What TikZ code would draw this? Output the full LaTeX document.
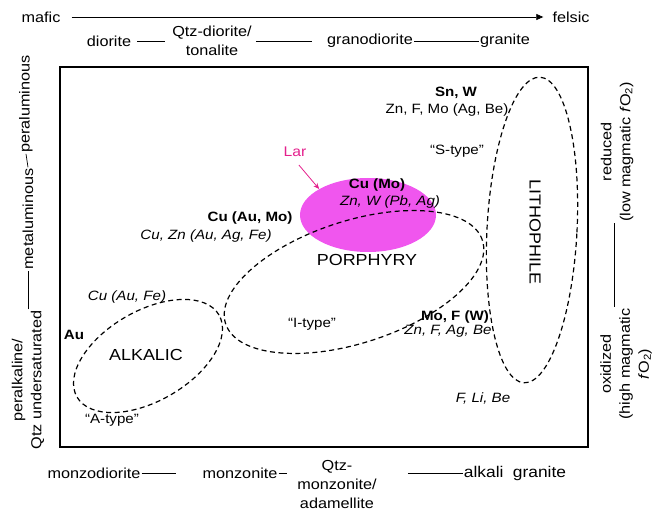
\documentclass[tikz,border=0pt]{standalone}
\usepackage{fontspec}
\setmainfont{Liberation Sans}[FakeStretch=1.12]
\usetikzlibrary{arrows.meta,shapes.geometric}
\definecolor{larfill}{RGB}{240,86,238}
\definecolor{larpink}{RGB}{228,32,140}
\newcommand{\fOtwo}{\textit{f}O\textsubscript{2}}
\begin{document}
\begin{tikzpicture}[x=1pt,y=-1pt,
  lab/.style={font=\fontsize{14.5}{19}\selectfont, inner sep=1pt, align=center},
  el/.style={font=\fontsize{13.5}{15}\selectfont\itshape, inner sep=1pt},
  elr/.style={font=\fontsize{13.5}{15}\selectfont, inner sep=1pt},
  elb/.style={font=\fontsize{13.5}{15}\selectfont\bfseries, inner sep=1pt},
  big/.style={font=\fontsize{16}{18}\selectfont, inner sep=1pt},
  zone/.style={ellipse, draw, line width=1.2pt, dash pattern=on 5pt off 3.5pt, inner sep=0pt},
  tie/.style={line width=0.7pt}]
\useasboundingbox (0,0) rectangle (658,513);

% frame of the diagram
\node[draw, line width=1.1pt, minimum width=528pt, minimum height=380pt, inner sep=0pt] (frame) at (324,257) {};

% top scale: mafic -> felsic
\node[lab] (mafic) at (41,17) {mafic};
\node[lab] (felsic) at (571,17) {felsic};
\draw[tie, -{Triangle[length=7pt,width=6pt]}] ([xshift=10pt]mafic.east) -- ([xshift=-8pt]felsic.west);

\node[lab] (dio) at (109,41) {diorite};
\node[lab] (qdio) at (212,41) {Qtz-diorite/\\tonalite};
\node[lab] (grd) at (370,41) {granodiorite};
\node[lab] (gra) at (505,41) {granite};
\draw[tie] ([xshift=5pt]dio.east) -- ([xshift=-6pt]qdio.west);
\draw[tie] ([xshift=3pt]qdio.east) -- ([xshift=-14pt]grd.west);
\draw[tie] (grd.east) -- (gra.west);

% bottom scale
\node[lab] (mzd) at (94,473) {monzodiorite};
\node[lab] (mzn) at (240,473) {monzonite};
\node[lab] (qmz) at (337,485) {Qtz-\\monzonite/\\adamellite};
\node[lab, font=\fontsize{15.5}{19}\selectfont] (agr) at (515,473) {alkali\hspace{0.3em} granite};
\draw[tie] (mzd.east) -- ([xshift=-25pt]mzn.west);
\draw[tie] (mzn.east) -- ([xshift=8pt]mzn.east);
\draw[tie] ([xshift=30pt]qmz.east |- agr.west) -- (agr.west);

% left scale (aluminium saturation)
\node[lab, rotate=90] (peralu) at (26,104) {peraluminous};
\node[lab, rotate=90] (metalu) at (28,219) {metaluminous};
\node[lab, rotate=90] (peralk) at (28,380) {peralkaline/\\Qtz undersaturated};
\draw[tie] (metalu.east) -- (peralu.west);
\draw[tie] (peralk.east) -- (metalu.west);

% right scale (oxidation state)
\node[lab, rotate=90] (red) at (617,152) {reduced\\(low magmatic \fOtwo)};
\node[lab, rotate=90] (oxi) at (626,364) {oxidized\\(high magmatic\\\fOtwo)};
\draw[tie] ([xshift=-3pt]red.west) -- ([xshift=-3pt]red.west |- oxi.east);

% Lar porphyry field
\node[ellipse, fill=larfill, minimum width=136pt, minimum height=74pt, inner sep=0pt] (lar) at (368,215) {};
\node[font=\fontsize{14}{16}\selectfont, text=larpink] (lartxt) at (295,152) {Lar};
\draw[larpink, line width=0.8pt, -{Stealth[length=6pt,width=5pt]}, shorten <=6pt] (lartxt.south) -- (lar.152);

% deposit fields
\node[zone, minimum width=270pt, minimum height=122pt, rotate=18] (por) at (354,282) {};
\node[zone, minimum width=164pt, minimum height=90pt, rotate=30] (alk) at (148,356) {};
\node[zone, minimum width=90pt, minimum height=306pt, rotate=-3] (lith) at (532,230) {};

\node[big] (porl) at (367,260) {PORPHYRY};
\node[big] (alkl) at (146,355) {ALKALIC};
\node[big, rotate=-90] (lithl) at (535,232) {LITHOPHILE};

% metal associations
\node[elb] (snw) at (456,93) {Sn, W};
\node[elr] (znfmo) at (447,110) {Zn, F, Mo (Ag, Be)};
\node[elr] (stype) at (457,151) {“S-type”};
\node[elb] (cumo) at (377,185) {Cu (Mo)};
\node[el] (znw) at (390,202) {Zn, W (Pb, Ag)};
\node[elb] (cuaumo) at (250,218) {Cu (Au, Mo)};
\node[el] (cuzn) at (206,236) {Cu, Zn (Au, Ag, Fe)};
\node[el] (cuaufe) at (127,297) {Cu (Au, Fe)};
\node[elr] (itype) at (312,324) {“I-type”};
\node[elb] (mofw) at (455,317) {Mo, F (W)};
\node[el] (znfag) at (448,331) {Zn, F, Ag, Be};
\node[elb] (au) at (74,335) {Au};
\node[el] (flibe) at (483,398) {F, Li, Be};
\node[elr] (atype) at (112,420) {“A-type”};
\end{tikzpicture}
\end{document}
